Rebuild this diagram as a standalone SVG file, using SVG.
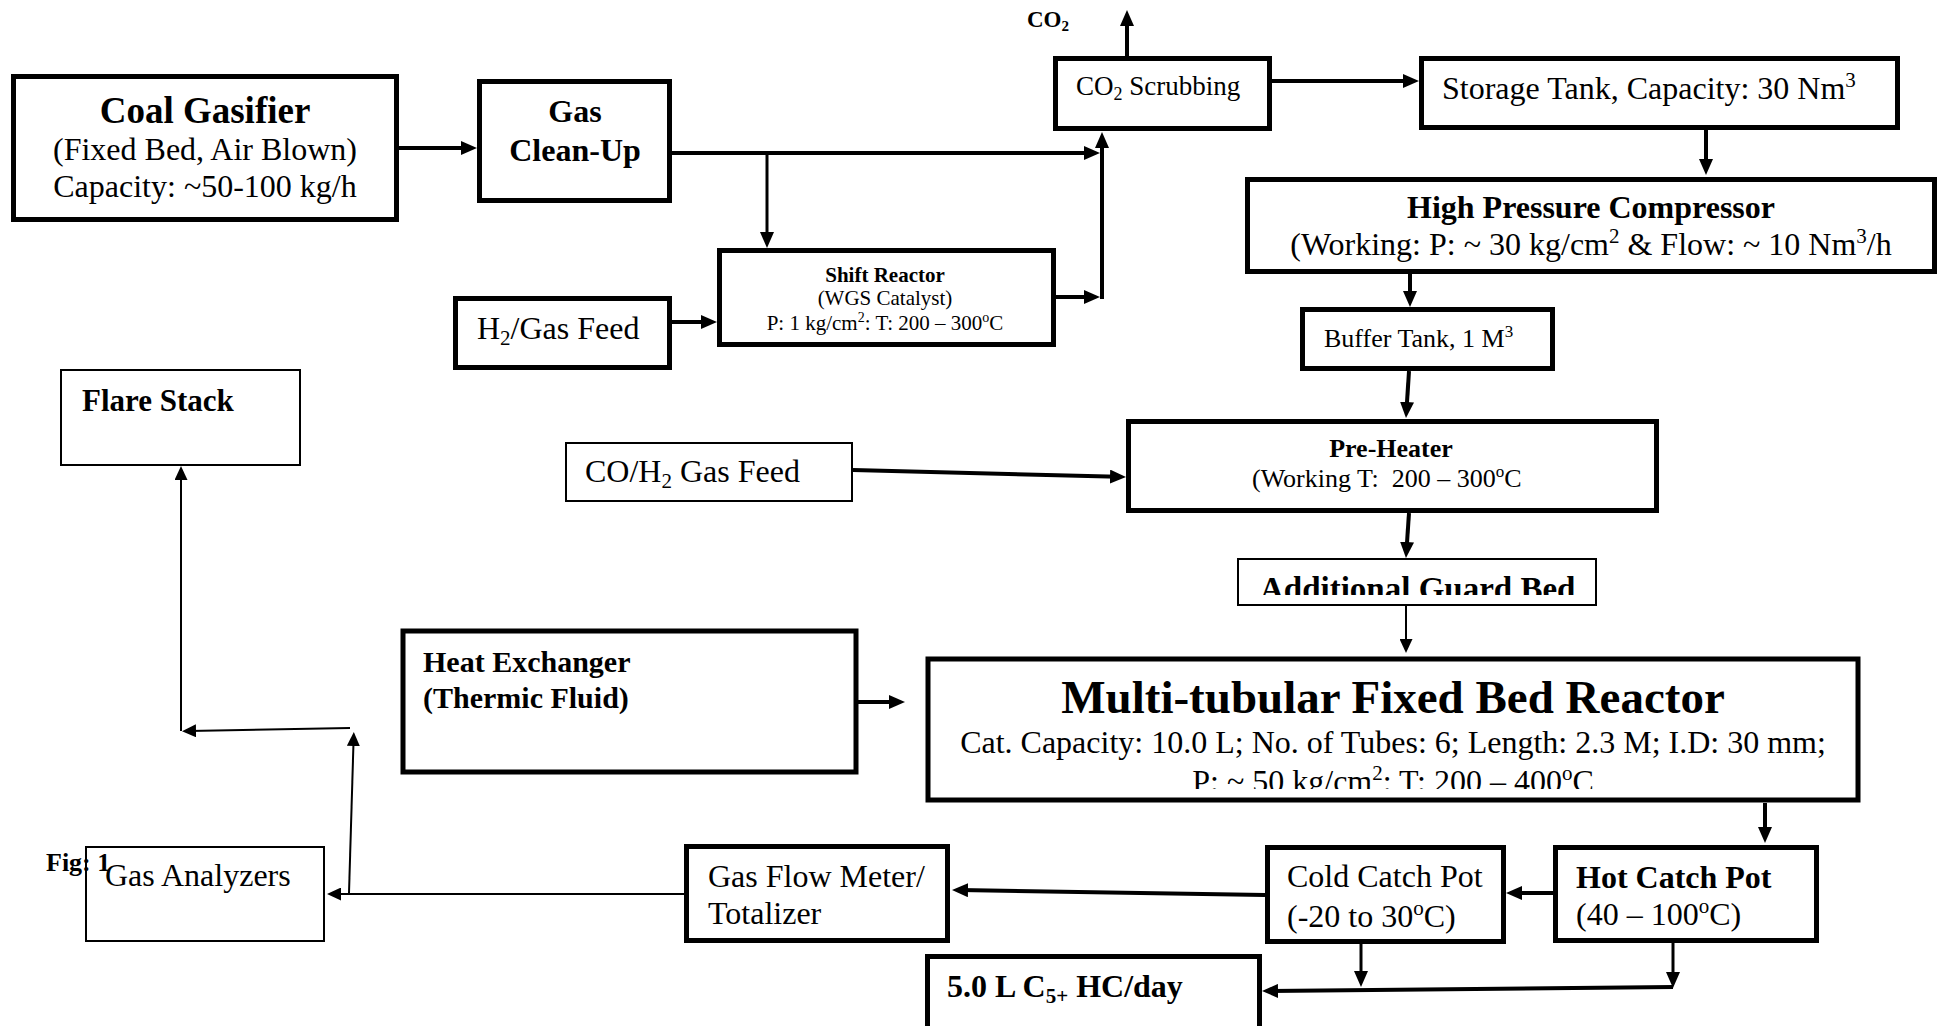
<svg xmlns="http://www.w3.org/2000/svg" width="1950" height="1026" viewBox="0 0 1950 1026">
<style>
.t{font-family:"Liberation Serif","Times New Roman",serif;fill:#000}
.b{font-weight:bold}
.m{text-anchor:middle}
.box{fill:#fff;stroke:#000;stroke-width:5}
.thin{stroke-width:2}
.c{fill:none;stroke:#000;stroke-width:4;marker-end:url(#a)}
.c3{stroke-width:3}
.c2{stroke-width:2;marker-end:url(#a2)}
</style>
<defs>
<marker id="a" markerUnits="userSpaceOnUse" markerWidth="16" markerHeight="14" refX="8" refY="7" orient="auto"><path d="M0,0 L16,7 L0,14 z" fill="#000"/></marker>
<marker id="a2" markerUnits="userSpaceOnUse" markerWidth="14" markerHeight="13" refX="7" refY="6.5" orient="auto"><path d="M0,0 L14,6.5 L0,13 z" fill="#000"/></marker>
<clipPath id="cg"><rect x="1230" y="550" width="380" height="45"/></clipPath>
<clipPath id="cr"><rect x="920" y="650" width="950" height="139"/></clipPath>
</defs>
<rect width="1950" height="1026" fill="#fff"/>

<g id="connectors">
<path class="c" d="M399,148 H469"/>
<path class="c" d="M672,153 H1092"/>
<path class="c c3" d="M767,153 V240"/>
<path class="c" d="M1056,297 H1092"/>
<path class="c" d="M1102,299 V140"/>
<path class="c" d="M672,322 H709"/>
<path class="c" d="M1127,56 V18"/>
<path class="c" d="M1272,81 H1411"/>
<path class="c" d="M1706,130 V167"/>
<path class="c" d="M1410,274 V299"/>
<path class="c" d="M1409,371 L1406.5,410"/>
<path class="c" d="M853,470 L1118,476.8"/>
<path class="c" d="M1409,513 L1406.5,550"/>
<path class="c c2" d="M1406,606 V646"/>
<path class="c" d="M858,702 H897"/>
<path class="c" d="M1765,803 V835"/>
<path class="c" d="M1553,893 H1514"/>
<path class="c" d="M1265,895 L960,890.1"/>
<path class="c c2" d="M684,894 H334"/>
<path class="c c2" d="M349,893 L353.6,739"/>
<path class="c c2" d="M350,728 L189,731"/>
<path class="c c2" d="M181,731 V473"/>
<path class="c c3" d="M1361,944 V979"/>
<path class="c c3" d="M1673,943 V980"/>
<path class="c" d="M1673,987 L1270,991"/>
</g>

<g id="coal-gasifier">
<rect class="box" x="13.5" y="76.5" width="383" height="143"/>
<text class="t b m" x="205" y="123" font-size="37">Coal Gasifier</text>
<text class="t m" x="205" y="160" font-size="32">(Fixed Bed, Air Blown)</text>
<text class="t m" x="205" y="197" font-size="32">Capacity: ~50-100 kg/h</text>
</g>

<g id="gas-cleanup">
<rect class="box" x="479.5" y="81.5" width="190" height="119"/>
<text class="t b m" x="575" y="122" font-size="32">Gas</text>
<text class="t b m" x="575" y="161" font-size="32">Clean-Up</text>
</g>

<g id="co2-label">
<text class="t b" x="1027" y="27" font-size="23">CO<tspan font-size="15" dy="4">2</tspan></text>
</g>

<g id="co2-scrubbing">
<rect class="box" x="1055.5" y="58.5" width="214" height="70"/>
<text class="t" x="1076" y="95" font-size="27">CO<tspan font-size="18" dy="5">2</tspan><tspan dy="-5"> Scrubbing</tspan></text>
</g>

<g id="storage-tank">
<rect class="box" x="1421.5" y="58.5" width="476" height="69"/>
<text class="t" x="1442" y="99" font-size="32">Storage Tank, Capacity: 30 Nm<tspan font-size="21" dy="-12">3</tspan></text>
</g>

<g id="hp-compressor">
<rect class="box" x="1247.5" y="179.5" width="687" height="92"/>
<text class="t b m" x="1591" y="218" font-size="32">High Pressure Compressor</text>
<text class="t m" x="1591" y="255" font-size="32">(Working: P: ~ 30 kg/cm<tspan font-size="21" dy="-12">2</tspan><tspan dy="12"> &amp; Flow: ~ 10 Nm</tspan><tspan font-size="21" dy="-12">3</tspan><tspan dy="12">/h</tspan></text>
</g>

<g id="shift-reactor">
<rect class="box" x="719.5" y="250.5" width="334" height="94"/>
<text class="t b m" x="885" y="282" font-size="21">Shift Reactor</text>
<text class="t m" x="885" y="305" font-size="21">(WGS Catalyst)</text>
<text class="t m" x="885" y="330" font-size="21">P: 1 kg/cm<tspan font-size="14" dy="-8">2</tspan><tspan dy="8">: T: 200 – 300</tspan><tspan font-size="14" dy="-8">o</tspan><tspan dy="8">C</tspan></text>
</g>

<g id="h2-gas-feed">
<rect class="box" x="455.5" y="298.5" width="214" height="69"/>
<text class="t" x="477" y="339" font-size="32">H<tspan font-size="21" dy="6">2</tspan><tspan dy="-6">/Gas Feed</tspan></text>
</g>

<g id="buffer-tank">
<rect class="box" x="1302.5" y="309.5" width="250" height="59"/>
<text class="t" x="1324" y="347" font-size="26">Buffer Tank, 1 M<tspan font-size="17" dy="-10">3</tspan></text>
</g>

<g id="flare-stack">
<rect class="box thin" x="61" y="370" width="239" height="95"/>
<text class="t b" x="82" y="411" font-size="31">Flare Stack</text>
</g>

<g id="co-h2-feed">
<rect class="box thin" x="566" y="443" width="286" height="58"/>
<text class="t" x="585" y="482" font-size="32">CO/H<tspan font-size="21" dy="6">2</tspan><tspan dy="-6"> Gas Feed</tspan></text>
</g>

<g id="pre-heater">
<rect class="box" x="1128.5" y="421.5" width="528" height="89"/>
<text class="t b m" x="1391" y="457" font-size="26">Pre-Heater</text>
<text class="t" x="1252" y="487" font-size="26" xml:space="preserve">(Working T:  200 – 300<tspan font-size="17" dy="-10">o</tspan><tspan dy="10">C</tspan></text>
</g>

<g id="guard-bed">
<rect class="box thin" x="1238" y="559" width="358" height="46"/>
<text class="t b" x="1260" y="600" font-size="33" clip-path="url(#cg)">Additional Guard Bed</text>
</g>

<g id="heat-exchanger">
<rect class="box" x="403" y="631" width="453" height="141" stroke-width="4.5"/>
<text class="t b" x="423" y="672" font-size="30">Heat Exchanger</text>
<text class="t b" x="423" y="708" font-size="30">(Thermic Fluid)</text>
</g>

<g id="reactor">
<rect class="box" x="928" y="659" width="930" height="141" stroke-width="6"/>
<text class="t b m" x="1393" y="713" font-size="47">Multi-tubular Fixed Bed Reactor</text>
<text class="t m" x="1393" y="753" font-size="32">Cat. Capacity: 10.0 L; No. of Tubes: 6; Length: 2.3 M; I.D: 30 mm;</text>
<text class="t m" x="1393" y="792" font-size="32" clip-path="url(#cr)">P: ~ 50 kg/cm<tspan font-size="21" dy="-12">2</tspan><tspan dy="12">: T: 200 – 400</tspan><tspan font-size="21" dy="-12">o</tspan><tspan dy="12">C</tspan></text>
</g>

<g id="gas-analyzers">
<rect class="box thin" x="86" y="847" width="238" height="94"/>
<text class="t" x="105" y="886" font-size="32">Gas Analyzers</text>
</g>

<g id="fig-label">
<text class="t b" x="46" y="871" font-size="26">Fig: 1</text>
</g>

<g id="gas-flow-meter">
<rect class="box" x="686.5" y="846.5" width="261" height="94"/>
<text class="t" x="708" y="887" font-size="32">Gas Flow Meter/</text>
<text class="t" x="708" y="924" font-size="32">Totalizer</text>
</g>

<g id="cold-catch-pot">
<rect class="box" x="1267.5" y="847.5" width="236" height="94"/>
<text class="t" x="1287" y="887" font-size="32">Cold Catch Pot</text>
<text class="t" x="1287" y="927" font-size="32">(-20 to 30<tspan font-size="21" dy="-12">o</tspan><tspan dy="12">C)</tspan></text>
</g>

<g id="hot-catch-pot">
<rect class="box" x="1555.5" y="847.5" width="261" height="93"/>
<text class="t b" x="1576" y="888" font-size="32">Hot Catch Pot</text>
<text class="t" x="1576" y="925" font-size="32">(40 – 100<tspan font-size="21" dy="-12">o</tspan><tspan dy="12">C)</tspan></text>
</g>

<g id="c5-product">
<rect class="box" x="927.5" y="956.5" width="332" height="80" stroke-width="4"/>
<text class="t b" x="947" y="997" font-size="32">5.0 L C<tspan font-size="21" dy="6">5+</tspan><tspan dy="-6"> HC/day</tspan></text>
</g>
</svg>
